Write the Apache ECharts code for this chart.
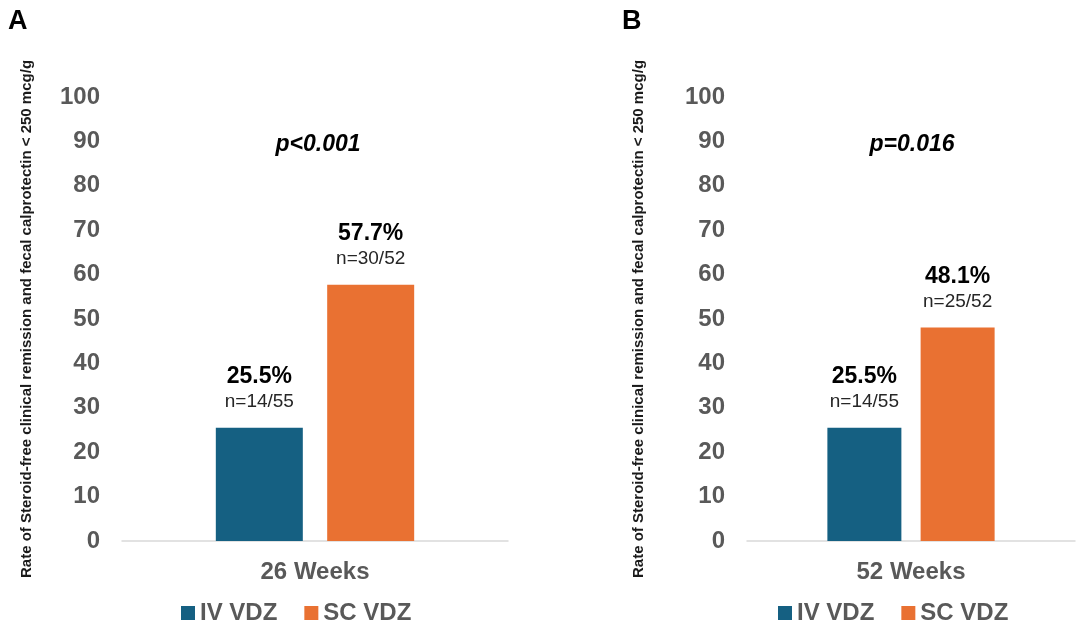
<!DOCTYPE html>
<html>
<head>
<meta charset="utf-8">
<script src="https://cdn.jsdelivr.net/npm/echarts@6/dist/echarts.min.js"></script>
<style>
html,body{margin:0;padding:0;background:#fff;}
#c{width:1080px;height:625px;}
</style>
</head>
<body>
<div id="c"></div>
<script>
var seriesNames = ['IV VDZ', 'SC VDZ'];
var categoriesA = ['26 Weeks'];
var categoriesB = ['52 Weeks'];
var ivA = [25.5];
var scA = [57.7];
var ivB = [25.5];
var scB = [48.1];
var nIvA = ['n=14/55'];
var nScA = ['n=30/52'];
var nIvB = ['n=14/55'];
var nScB = ['n=25/52'];
var pValues = ['p<0.001', 'p=0.016'];
var panelLetters = ['A', 'B'];
var yTitle = 'Rate of Steroid-free clinical remission and fecal calprotectin < 250 mcg/g';

var FONT = '"Liberation Sans", Arial, Helvetica, sans-serif';
var BLUE = '#156082', ORANGE = '#E97132', GREY = '#595959';

function lbl(nArr) {
  return {
    show: true, position: 'top', distance: 14, fontFamily: FONT,
    formatter: function (p) { return '{a|' + p.value + '%}\n{b|' + nArr[p.dataIndex] + '}'; },
    rich: {
      a: { fontFamily: FONT, fontSize: 23, fontWeight: 'bold', color: '#000', lineHeight: 26, align: 'center' },
      b: { fontFamily: FONT, fontSize: 19, color: '#262626', lineHeight: 24, align: 'center' }
    }
  };
}
function yAx(gi, gap) {
  return {
    gridIndex: gi, type: 'value', min: 0, max: 100, interval: 10,
    name: yTitle, nameLocation: 'middle', nameGap: gap, nameRotate: 90,
    nameTextStyle: { fontFamily: FONT, fontSize: 15, fontWeight: 'bold', color: '#1a1a1a' },
    axisLine: { show: false }, axisTick: { show: false }, splitLine: { show: false },
    axisLabel: { margin: 22, fontFamily: FONT, fontSize: 24, fontWeight: 'bold', color: GREY }
  };
}
function xAx(gi, cats) {
  return {
    gridIndex: gi, type: 'category', data: cats,
    axisLine: { show: true, lineStyle: { color: '#d9d9d9', width: 1.5 } },
    axisTick: { show: false },
    axisLabel: { margin: 19, fontFamily: FONT, fontSize: 24, fontWeight: 'bold', color: GREY }
  };
}
function legend(left) {
  return {
    data: seriesNames, left: left, top: 596, itemWidth: 14, itemHeight: 14, itemGap: 27,
    icon: 'rect', selectedMode: false,
    textStyle: { fontFamily: FONT, fontSize: 24, fontWeight: 'bold', color: GREY, padding: [0, 0, 0, 0] }
  };
}

var chart = echarts.init(document.getElementById('c'));
chart.setOption({
  backgroundColor: '#fff',
  animation: false,
  title: [
    { text: panelLetters[0], left: 3, top: 3, textStyle: { fontFamily: FONT, fontSize: 27, fontWeight: 'bold', color: '#000' } },
    { text: panelLetters[1], left: 617, top: 3, textStyle: { fontFamily: FONT, fontSize: 27, fontWeight: 'bold', color: '#000' } },
    { text: pValues[0], left: 313, top: 128, textAlign: 'center', textStyle: { fontFamily: FONT, fontSize: 23, fontWeight: 'bold', fontStyle: 'italic', color: '#000' } },
    { text: pValues[1], left: 907, top: 128, textAlign: 'center', textStyle: { fontFamily: FONT, fontSize: 23, fontWeight: 'bold', fontStyle: 'italic', color: '#000' } }
  ],
  legend: [legend(176), legend(773)],
  grid: [
    { left: 122, right: 572, top: 97, bottom: 84 },
    { left: 747, right: 5, top: 97, bottom: 84 }
  ],
  xAxis: [xAx(0, categoriesA), xAx(1, categoriesB)],
  yAxis: [yAx(0, 88), yAx(1, 101)],
  series: [
    { name: seriesNames[0], type: 'bar', xAxisIndex: 0, yAxisIndex: 0, data: ivA, barWidth: 87, barGap: '28%', itemStyle: { color: BLUE }, label: lbl(nIvA) },
    { name: seriesNames[1], type: 'bar', xAxisIndex: 0, yAxisIndex: 0, data: scA, barWidth: 87, barGap: '28%', itemStyle: { color: ORANGE }, label: lbl(nScA) },
    { name: seriesNames[0], type: 'bar', xAxisIndex: 1, yAxisIndex: 1, data: ivB, barWidth: 74, barGap: '26%', itemStyle: { color: BLUE }, label: lbl(nIvB) },
    { name: seriesNames[1], type: 'bar', xAxisIndex: 1, yAxisIndex: 1, data: scB, barWidth: 74, barGap: '26%', itemStyle: { color: ORANGE }, label: lbl(nScB) }
  ]
});
</script>
</body>
</html>
